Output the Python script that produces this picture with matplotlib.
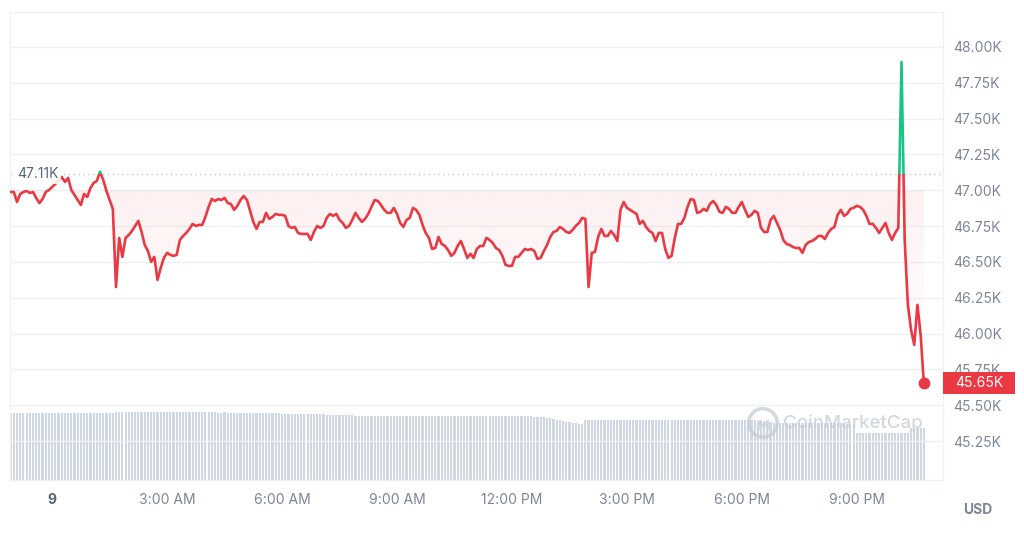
import numpy as np
import pandas as pd
import matplotlib
matplotlib.use("Agg")
import matplotlib.pyplot as plt
import matplotlib.dates as mdates
from matplotlib.colors import to_rgb
from matplotlib.patches import Rectangle, PathPatch
from matplotlib.path import Path

plt.rcParams['font.family'] = ['Inter', 'DejaVu Sans']

# ---- data (BTC / USD, 1 day, 5 minute steps) ----
start = "2024-01-08 22:50"

price = [
    46988, 46988, 46988, 46918, 46974, 46988, 46995, 46981, 46988, 46946, 46911, 46939,
    46988, 47002, 47023, 47044, 47065, 47093, 47058, 47086, 47002, 46967, 46932, 46897,
    46974, 46953, 47016, 47051, 47065, 47130, 47072, 46995, 46932, 46870, 46325, 46667,
    46535, 46667, 46688, 46716, 46751, 46786, 46709, 46618, 46576, 46500, 46535, 46374,
    46458, 46528, 46563, 46549, 46542, 46549, 46653, 46681, 46702, 46730, 46765, 46751,
    46758, 46758, 46814, 46884, 46939, 46925, 46939, 46932, 46946, 46911, 46904, 46863,
    46891, 46932, 46960, 46932, 46856, 46779, 46730, 46779, 46779, 46842, 46800, 46814,
    46835, 46828, 46828, 46821, 46751, 46737, 46744, 46702, 46695, 46695, 46695, 46653,
    46709, 46751, 46737, 46751, 46807, 46835, 46821, 46835, 46793, 46772, 46737, 46751,
    46793, 46842, 46807, 46779, 46800, 46835, 46884, 46932, 46925, 46897, 46863, 46842,
    46842, 46877, 46835, 46772, 46744, 46793, 46807, 46877, 46863, 46828, 46758, 46702,
    46667, 46590, 46597, 46674, 46625, 46611, 46583, 46542, 46563, 46611, 46646, 46590,
    46528, 46556, 46528, 46590, 46611, 46611, 46667, 46653, 46632, 46597, 46583, 46542,
    46479, 46472, 46472, 46535, 46535, 46563, 46590, 46583, 46590, 46576, 46521, 46528,
    46576, 46618, 46674, 46709, 46716, 46744, 46730, 46709, 46702, 46723, 46751, 46772,
    46807, 46800, 46325, 46563, 46569, 46674, 46730, 46681, 46681, 46716, 46688, 46646,
    46863, 46918, 46877, 46863, 46849, 46835, 46765, 46786, 46744, 46716, 46702, 46646,
    46702, 46702, 46590, 46528, 46542, 46667, 46765, 46765, 46807, 46884, 46939, 46932,
    46842, 46849, 46870, 46856, 46904, 46925, 46897, 46849, 46842, 46884, 46870, 46842,
    46842, 46884, 46918, 46863, 46814, 46828, 46856, 46842, 46737, 46709, 46709, 46793,
    46821, 46772, 46723, 46653, 46625, 46618, 46604, 46597, 46597, 46563, 46618, 46639,
    46646, 46660, 46681, 46681, 46660, 46702, 46730, 46744, 46828, 46863, 46821, 46835,
    46870, 46877, 46891, 46884, 46863, 46821, 46765, 46765, 46737, 46702, 46737, 46772,
    46702, 46653, 46702, 46737, 47895, 46653, 46200, 46025, 45921, 46200, 45990, 45655,
]

# 24h volume, billions USD
volume = [
    33.5, 33.5, 33.4, 33.5, 33.5, 33.5, 33.4, 33.4, 33.5, 33.5, 33.5, 33.4,
    33.4, 33.4, 33.5, 33.5, 33.4, 33.4, 33.4, 33.3, 33.4, 33.4, 33.4, 33.3,
    33.3, 33.3, 33.4, 33.3, 33.4, 33.4, 33.5, 33.6, 33.6, 33.7, 33.8, 34.0,
    34.0, 34.1, 34.1, 34.0, 34.1, 34.1, 34.2, 34.1, 34.1, 34.1, 34.0, 34.1,
    34.1, 34.0, 34.0, 34.1, 34.0, 34.0, 34.0, 34.0, 33.9, 34.0, 33.9, 33.9,
    33.9, 33.8, 33.8, 33.9, 33.8, 33.8, 33.7, 33.7, 33.8, 33.7, 33.7, 33.6,
    33.6, 33.6, 33.5, 33.5, 33.5, 33.4, 33.5, 33.4, 33.4, 33.4, 33.3, 33.3,
    33.3, 33.3, 33.2, 33.2, 33.2, 33.2, 33.1, 33.1, 33.0, 33.0, 33.0, 32.9,
    32.9, 32.9, 32.8, 32.8, 32.7, 32.6, 32.6, 32.5, 32.5, 32.4, 32.4, 32.3,
    32.3, 32.2, 32.2, 32.2, 32.2, 32.2, 32.1, 32.2, 32.2, 32.1, 32.1, 32.1,
    32.1, 32.1, 32.1, 32.0, 32.0, 32.1, 32.1, 32.0, 32.0, 32.0, 32.1, 32.1,
    32.1, 32.1, 32.2, 32.2, 32.2, 32.1, 32.1, 32.1, 32.0, 32.1, 32.1, 32.0,
    32.0, 32.0, 32.1, 32.1, 32.1, 32.0, 32.0, 32.0, 32.0, 31.9, 32.0, 32.0,
    32.0, 31.9, 31.9, 31.9, 31.9, 31.8, 31.8, 31.8, 31.8, 31.7, 31.7, 31.6,
    31.5, 31.2, 30.9, 30.5, 30.1, 29.8, 29.5, 29.2, 28.9, 28.6, 28.4, 28.2,
    28.1, 29.9, 30.0, 30.0, 30.1, 30.0, 30.0, 30.0, 30.1, 30.0, 30.0, 30.0,
    30.0, 30.0, 30.1, 30.1, 30.0, 30.0, 30.1, 30.1, 30.1, 30.0, 30.0, 30.1,
    30.1, 30.1, 30.0, 30.0, 30.0, 30.1, 30.0, 30.0, 30.0, 29.9, 30.0, 30.0,
    30.0, 29.9, 29.9, 30.0, 30.0, 30.0, 29.9, 29.9, 29.9, 29.9, 29.9, 29.9,
    29.9, 29.9, 29.9, 29.8, 29.8, 29.8, 29.8, 29.7, 29.6, 29.4, 29.2, 29.0,
    28.6, 28.5, 28.5, 28.5, 28.5, 28.5, 28.4, 28.5, 28.5, 28.4, 28.4, 28.4,
    28.4, 28.4, 28.4, 28.3, 28.4, 28.4, 28.3, 28.3, 28.3, 28.3, 28.2, 28.2,
    28.2, 28.2, 23.6, 23.5, 23.5, 23.5, 23.5, 23.5, 23.5, 23.5, 23.5, 23.5,
    23.5, 23.5, 23.5, 23.5, 23.6, 23.6, 23.6, 25.8, 25.9, 25.9, 26.0, 26.0,
]

open_price = 47110
price_ticks = [45250, 45500, 45750, 46000, 46250, 46500, 46750, 47000, 47250, 47500, 47750, 48000]
price_tick_labels = ["45.25K", "45.50K", "45.75K", "46.00K", "46.25K", "46.50K",
                     "46.75K", "47.00K", "47.25K", "47.50K", "47.75K", "48.00K"]
time_ticks = ["2024-01-09 00:00", "2024-01-09 03:00", "2024-01-09 06:00", "2024-01-09 09:00",
              "2024-01-09 12:00", "2024-01-09 15:00", "2024-01-09 18:00", "2024-01-09 21:00"]
time_tick_labels = ["9", "3:00 AM", "6:00 AM", "9:00 AM", "12:00 PM", "3:00 PM", "6:00 PM", "9:00 PM"]

RED = "#ea3943"
GREEN = "#16c784"
GREY = "#7d8698"
DARK = "#58667e"
GRID = "#eff2f5"
VOL = "#cfd6e4"

times = pd.date_range(start, periods=len(price), freq="5min")
x = mdates.date2num(times)
price = np.array(price, dtype=float)

fig = plt.figure(figsize=(10.24, 5.41), dpi=100)
ax = fig.add_axes([10 / 1024, 61 / 541, 933 / 1024, 468 / 541])
ax2 = ax.twinx()
ax.set_zorder(ax2.get_zorder() + 1)
ax.patch.set_visible(False)

xmin = mdates.date2num(pd.Timestamp("2024-01-08 22:54"))
xmax = mdates.date2num(pd.Timestamp("2024-01-09 23:15"))
ymin, ymax = 44978, 48244

# volume bars
ax2.bar(x, volume, width=0.68 / 288, color=VOL, linewidth=0)
ax2.set_ylim(0, 234)
ax2.set_yticks([])
for s in ax2.spines.values():
    s.set_visible(False)

# gradient fill under the line (below 47.00K)
poly = ax.fill_between(x, np.minimum(price, 47000), 47000, color="none", linewidth=0)
clip = PathPatch(Path.make_compound_path(*poly.get_paths()), transform=ax.transData,
                 facecolor="none", edgecolor="none")
grad = np.zeros((256, 1, 4))
grad[..., :3] = to_rgb(RED)
grad[..., 3] = np.linspace(0.075, 0.0, 256)[:, None]
im = ax.imshow(grad, extent=[x[0], x[-1], 45850, 47000], origin="upper",
               aspect="auto", zorder=1, interpolation="bilinear")
im.set_clip_path(clip)

# baseline (open price)
ax.axhline(open_price, color="#c3c9d3", lw=1, ls=(0, (1, 2.5)), zorder=1.5)

# price line, red below open and green above
red_line, = ax.plot(x, price, color=RED, lw=1.9, solid_joinstyle="round", zorder=3)
green_line, = ax.plot(x, price, color=GREEN, lw=1.9, solid_joinstyle="round", zorder=3)
red_line.set_clip_path(Rectangle((xmin, 40000), xmax - xmin, open_price - 40000,
                                 transform=ax.transData))
green_line.set_clip_path(Rectangle((xmin, open_price), xmax - xmin, 60000 - open_price,
                                   transform=ax.transData))
ax.plot(x[-1], price[-1], "o", color=RED, ms=7.5, zorder=4)

ax.set_xlim(xmin, xmax)
ax.set_ylim(ymin, ymax)

# axes styling
ax.yaxis.tick_right()
ax.set_yticks(price_ticks)
ax.set_yticklabels(price_tick_labels)
ax.tick_params(axis="y", length=0, pad=7, labelcolor=GREY, labelsize=10)
ax.grid(axis="y", color=GRID, lw=1)
ax.set_axisbelow(True)

ax.set_xticks(mdates.date2num(pd.to_datetime(time_ticks)))
ax.set_xticklabels(time_tick_labels)
ax.tick_params(axis="x", length=0, pad=9, labelcolor=GREY, labelsize=10)
first = ax.get_xticklabels()[0]
first.set_fontweight("bold")
first.set_color(DARK)

for s in ax.spines.values():
    s.set_color(GRID)
    s.set_linewidth(1)

# open price label on the left
ax.text(0.0075, open_price, "47.11K", transform=ax.get_yaxis_transform(),
        ha="left", va="center", color=DARK, fontsize=10, zorder=5,
        bbox=dict(boxstyle="square,pad=0.2", fc="white", ec="none", alpha=0.85))

# current price tag
ax.add_patch(Rectangle((1.0, price[-1] - 80), 72 / 933, 160, transform=ax.get_yaxis_transform(),
                       facecolor=RED, edgecolor="none", clip_on=False, zorder=10))
ax.text(1.0 + 12 / 933, price[-1], "45.65K", transform=ax.get_yaxis_transform(),
        ha="left", va="center", color="white", fontsize=10, zorder=11, clip_on=False)

# watermark
ax.scatter([0.807], [0.122], s=420, facecolor="none", edgecolor="#c8ced8", lw=2.5,
           transform=ax.transAxes, zorder=6, alpha=0.8)
ax.text(0.807, 0.118, "ᴍ", transform=ax.transAxes, ha="center", va="center",
        fontsize=13, color="#c8ced8", alpha=0.8, zorder=6, family=["DejaVu Sans"])
ax.text(0.829, 0.122, "CoinMarketCap", transform=ax.transAxes, ha="left", va="center",
        fontsize=13.5, color="#c8ced8", alpha=0.8, zorder=6, fontweight="medium")

fig.text(978 / 1024, 1 - 510 / 541, "USD", ha="center", va="center",
         color=GREY, fontsize=10, fontweight="bold")

fig.savefig("out.png", dpi=100)
